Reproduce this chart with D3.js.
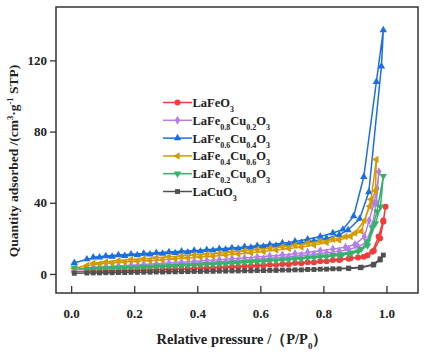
<!DOCTYPE html>
<html><head><meta charset="utf-8">
<script src="https://cdn.jsdelivr.net/npm/d3@7"></script>
<style>body{margin:0;background:#fff}svg{display:block}</style>
</head><body>
<script>
// ---- data ----
const categories = ["LaFeO3","LaFe0.8Cu0.2O3","LaFe0.6Cu0.4O3","LaFe0.4Cu0.6O3","LaFe0.2Cu0.8O3","LaCuO3"];
const colors = ["#f23b3b","#b47ee8","#1b6fe2","#d29b06","#35b36c","#505050"];
const xTicks = [0.0,0.2,0.4,0.6,0.8,1.0];
const yTicks = [0,40,80,120];

// shared pressures of the low/mid adsorption and desorption branches
const pAds = [0.01,0.05,0.09,0.13,0.17,0.21,0.25,0.29,0.33,0.37,0.41,0.45,0.49,0.53,0.57,0.61,0.65,0.69,0.73,0.77,0.81,0.85];
const pDes = [0.83,0.79,0.75,0.71,0.67,0.63,0.59,0.55,0.51,0.47,0.43,0.39,0.35,0.31,0.27,0.23,0.19,0.15,0.11,0.07];

// LaFeO3
const redAds  = [1.4,1.5,1.6,1.8,1.9,2.1,2.3,2.5,2.7,2.9,3.2,3.4,3.7,4.0,4.3,4.7,5.1,5.5,6.0,6.5,7.1,7.8];
const redTail = [[0.88,8.5],[0.91,9.3],[0.94,10.5],[0.96,13],[0.98,20],[0.99,29.3],[0.997,37.8],[0.99,30],[0.975,21],[0.955,12.5],[0.928,9.7],[0.886,8.8],[0.854,8.2]];
const redDes  = [7.8,7.2,6.6,6.1,5.6,5.2,4.8,4.4,4.0,3.7,3.4,3.1,2.8,2.6,2.4,2.2,2.0,1.8,1.6,1.5];
// LaFe0.8Cu0.2O3
const purAds  = [2.2,2.9,3.3,3.6,3.9,4.2,4.5,4.9,5.3,5.7,6.1,6.6,7.0,7.5,8.0,8.5,9.1,9.7,10.4,11.1,11.9,12.8];
const purTail = [[0.88,13.8],[0.91,15.3],[0.935,17.5],[0.955,27],[0.968,40],[0.976,57.4],[0.97,48],[0.96,39.6],[0.945,30],[0.93,21],[0.9,16.5],[0.87,15]];
const purDes  = [14.0,13.0,12.1,11.4,10.7,10.1,9.5,9.0,8.5,8.0,7.5,7.0,6.6,6.1,5.7,5.3,4.9,4.5,4.1,3.6];
// LaFe0.6Cu0.4O3
const bluAds  = [6.2,8.3,9.3,9.8,10.2,10.6,11.0,11.4,11.8,12.2,12.7,13.2,13.7,14.2,14.8,15.4,16.0,16.7,17.5,18.5,20.0,22.0];
const bluTail = [[0.878,24.7],[0.915,31],[0.944,46],[0.984,116.7],[0.99,137],[0.968,108],[0.928,54.6],[0.896,32.5],[0.862,25]];
const bluDes  = [23,21,19.5,18.3,17.3,16.5,15.8,15.2,14.6,14.1,13.6,13.1,12.7,12.3,11.9,11.5,11.1,10.6,10.1,9.4];
// LaFe0.4Cu0.6O3
const golAds  = [3.2,4.8,5.6,6.2,6.7,7.2,7.6,8.0,8.5,9.0,9.5,10.0,10.6,11.2,11.9,12.6,13.4,14.3,15.2,16.3,17.6,19.0];
const golTail = [[0.886,21],[0.92,24],[0.951,41.9],[0.968,64.3],[0.965,46.7],[0.947,38],[0.93,30],[0.9,23],[0.87,21]];
const golDes  = [19.5,18.3,17.2,16.2,15.3,14.5,13.7,13.0,12.3,11.7,11.1,10.6,10.1,9.6,9.1,8.6,8.1,7.5,6.8,6.0];
// LaFe0.2Cu0.8O3
const grnAds  = [3.6,2.7,2.9,3.1,3.3,3.5,3.8,4.1,4.4,4.7,5.1,5.4,5.8,6.2,6.6,7.0,7.5,8.0,8.5,9.1,9.7,10.4];
const grnTail = [[0.88,11.2],[0.91,12.5],[0.94,16],[0.965,28.4],[0.981,37.8],[0.99,55],[0.97,35],[0.955,26],[0.94,18.1],[0.92,14],[0.89,12],[0.86,11]];
const grnDes  = [10.5,9.9,9.2,8.6,8.1,7.6,7.1,6.7,6.3,5.9,5.5,5.1,4.8,4.5,4.2,3.9,3.6,3.4,3.1,2.9];
// LaCuO3
const gryAds  = [0.4,0.5,0.6,0.7,0.8,0.9,1.0,1.1,1.2,1.3,1.4,1.5,1.6,1.7,1.8,1.9,2.0,2.2,2.3,2.5,2.7,2.9];
const gryTail = [[0.88,3.1],[0.917,3.5],[0.958,5],[0.98,7.9],[0.99,10.6],[0.98,8.5],[0.96,5.5],[0.92,3.8],[0.88,3.3]];
const gryDes  = [2.9,2.7,2.5,2.3,2.2,2.0,1.9,1.8,1.7,1.6,1.5,1.4,1.3,1.2,1.1,1.0,0.9,0.8,0.7,0.6];

const seriesParts = [
  [redAds,redTail,redDes],[purAds,purTail,purDes],[bluAds,bluTail,bluDes],
  [golAds,golTail,golDes],[grnAds,grnTail,grnDes],[gryAds,gryTail,gryDes]
];
const series = seriesParts.map(([a,t,d],i)=>({
  name:categories[i], color:colors[i],
  pts: pAds.map((p,j)=>[p,a[j]]).concat(t, pDes.map((p,j)=>[p,d[j]]))
}));

// ---- drawing ----
const W=430,H=360;
const svg=d3.select("body").append("svg").attr("width",W).attr("height",H);
const font="'Liberation Serif','Times New Roman',serif";
const x=d3.scaleLinear().domain([-0.048,1.10]).range([56,418]);
const y=d3.scaleLinear().domain([-10.7,150]).range([293,7]);

const markerDefs=[
  {type:d3.symbolCircle,size:28,rot:0},
  {type:d3.symbolDiamond,size:24,rot:0},
  {type:d3.symbolTriangle,size:24,rot:0},
  {type:d3.symbolTriangle,size:24,rot:-90},
  {type:d3.symbolTriangle,size:24,rot:180},
  {type:d3.symbolSquare,size:24,rot:0}
];

const line=d3.line().x(d=>x(d[0])).y(d=>y(d[1]));
const plot=svg.append("g");
series.forEach((s,i)=>{
  const g=plot.append("g");
  g.append("path").attr("d",line(s.pts)).attr("fill","none").attr("stroke",s.color).attr("stroke-width",1.5);
  const sym=d3.symbol().type(markerDefs[i].type).size(markerDefs[i].size);
  g.selectAll("path.m").data(s.pts).join("path").attr("class","m")
    .attr("d",sym()).attr("fill",s.color)
    .attr("transform",d=>`translate(${x(d[0])},${y(d[1])}) rotate(${markerDefs[i].rot})`);
});

// frame
svg.append("rect").attr("x",56).attr("y",7).attr("width",362).attr("height",286)
  .attr("fill","none").attr("stroke","#333").attr("stroke-width",1.5);

// axes
const xa=svg.append("g").attr("transform","translate(0,293)")
  .call(d3.axisBottom(x).tickValues(xTicks).tickFormat(d3.format(".1f")).tickSizeInner(-7).tickSizeOuter(0).tickPadding(16));
xa.select(".domain").remove();
xa.selectAll("line").attr("stroke","#333").attr("stroke-width",1.3);
xa.selectAll("text").attr("font-family",font).attr("font-weight","bold").attr("font-size",13).attr("fill","#222");

const ya=svg.append("g").attr("transform","translate(56,0)")
  .call(d3.axisLeft(y).tickValues(yTicks).tickSizeInner(6).tickSizeOuter(0).tickPadding(3));
ya.select(".domain").remove();
ya.selectAll("line").attr("stroke","#333").attr("stroke-width",1.3);
ya.selectAll("text").attr("font-family",font).attr("font-weight","bold").attr("font-size",13).attr("fill","#222");

// axis titles
const xt=svg.append("text").attr("x",242).attr("y",344).attr("text-anchor","middle")
  .attr("font-family",font).attr("font-weight","bold").attr("font-size",14.5).attr("fill","#222");
xt.append("tspan").text("Relative pressure /（P/P");
xt.append("tspan").attr("font-size",9).attr("baseline-shift","sub").text("0");
xt.append("tspan").text("）");

const yt=svg.append("text").attr("transform","translate(18,161) rotate(-90)").attr("text-anchor","middle")
  .attr("font-family",font).attr("font-weight","bold").attr("font-size",13.5).attr("fill","#222");
yt.append("tspan").text("Quantity adsorbed /(cm");
yt.append("tspan").attr("font-size",8.5).attr("baseline-shift","super").text("3");
yt.append("tspan").text("·g");
yt.append("tspan").attr("font-size",8.5).attr("baseline-shift","super").text("-1");
yt.append("tspan").text(" STP)");

// legend
const leg=svg.append("g").attr("transform","translate(163,102.5)");
series.forEach((s,i)=>{
  const g=leg.append("g").attr("transform",`translate(0,${i*17.8})`);
  g.append("line").attr("x1",0).attr("x2",29).attr("stroke",s.color).attr("stroke-width",1.5);
  g.append("path").attr("d",d3.symbol().type(markerDefs[i].type).size(markerDefs[i].size)())
    .attr("fill",s.color).attr("transform",`translate(14.5,0) rotate(${markerDefs[i].rot})`);
  const t=g.append("text").attr("x",29.5).attr("y",4.5).attr("font-family",font)
    .attr("font-weight","bold").attr("font-size",12.5).attr("fill","#222");
  (s.name.match(/[A-Za-z]+|[0-9.]+/g)).forEach(part=>{
    if(/^[0-9.]+$/.test(part)) t.append("tspan").attr("font-size",8).attr("baseline-shift","sub").text(part);
    else t.append("tspan").text(part);
  });
});
</script>
</body></html>
